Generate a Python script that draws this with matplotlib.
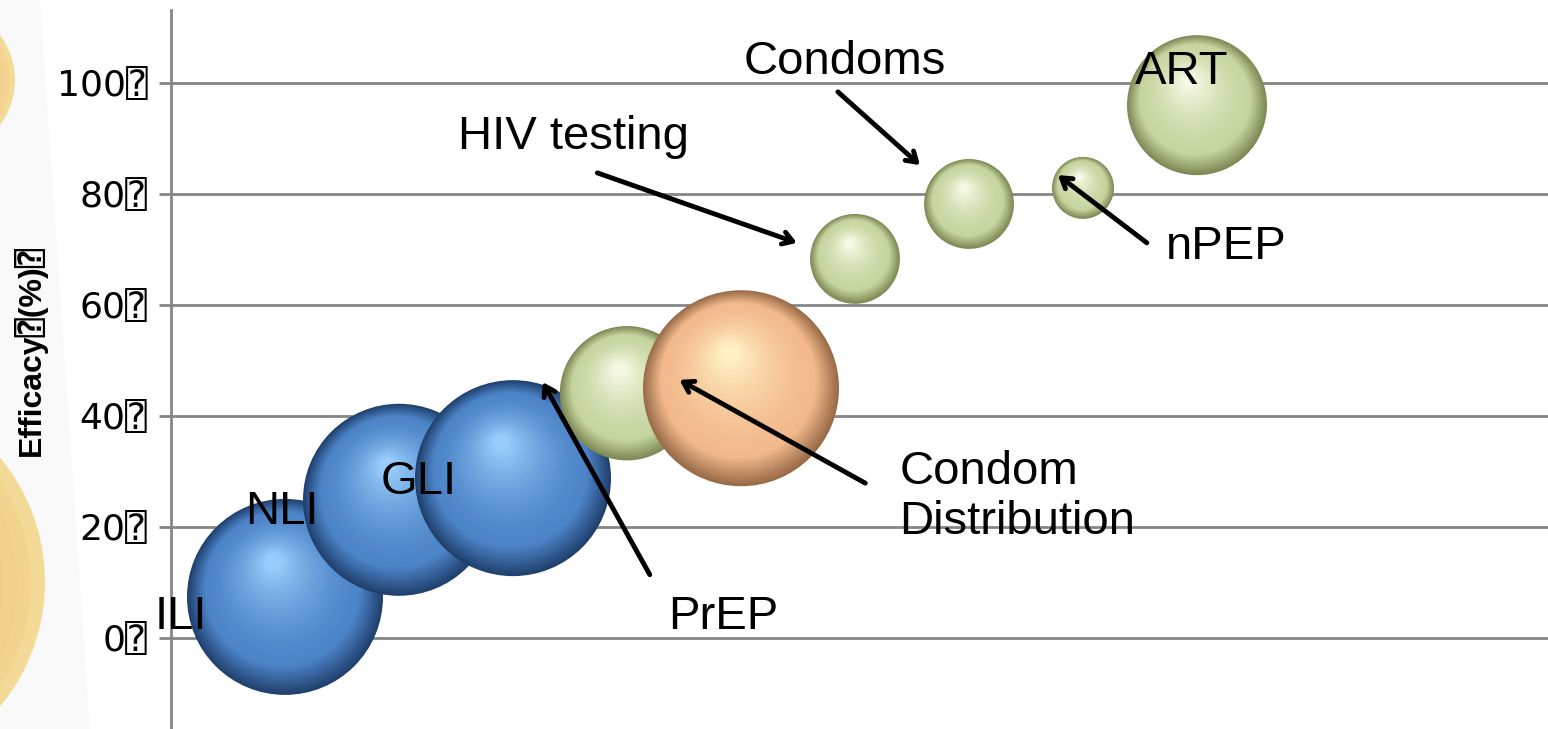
import numpy as np
import matplotlib
matplotlib.use("Agg")
import matplotlib.pyplot as plt
from matplotlib.colors import to_rgb
from matplotlib.transforms import ScaledTranslation
from matplotlib.patches import Ellipse, Polygon

# data
labels = ["ILI", "NLI", "GLI", "PrEP", "Condom Distribution",
          "HIV testing", "Condoms", "nPEP", "ART"]
x_pos = [1, 2, 3, 4, 5, 6, 7, 8, 9]
efficacy = [7.4, 24.9, 28.8, 44.1, 45.0, 68.3, 78.2, 81.1, 96.0]
bubble_size = [100, 96, 100, 47, 100, 21, 21, 10, 51]
groups = ["blue", "blue", "blue", "green", "orange",
          "green", "green", "green", "green"]
y_ticks = [0, 20, 40, 60, 80, 100]

# (edge, base, highlight) per colour group
palette = {
    "blue": ("#21416f", "#4c84c8", "#98ccfa"),
    "green": ("#7d8a55", "#c6d5a0", "#f6f9e4"),
    "orange": ("#9a6c48", "#f2b98c", "#fff1c4"),
}

W, H, DPI = 1548, 729, 100
fig = plt.figure(figsize=(W / DPI, H / DPI), dpi=DPI)
fig.patch.set_facecolor("white")

# faint decoration on the left edge
fig.patches.append(Polygon([(0, 0), (90 / W, 0), (40 / W, 1), (0, 1)],
                           closed=True, transform=fig.transFigure,
                           facecolor="#f9f9f9", edgecolor="none", zorder=-2))
for cx, cy, r in [(-60, 80, 75), (-150, 582, 195)]:
    for k in range(14):
        f = 1 - 0.8 * k / 14
        c = np.array(to_rgb("#e9a596")) * (k / 14) + np.array(to_rgb("#f3d88c")) * (1 - k / 14)
        fig.patches.append(Ellipse(((cx - 0.2 * r * k / 14) / W, 1 - (cy + 0.1 * r * k / 14) / H),
                                   2 * r * f / W, 2 * r * f / H,
                                   transform=fig.transFigure, facecolor=c,
                                   edgecolor="none", alpha=0.9, zorder=-1))

ax = fig.add_axes([171 / W, 0, 1 - 171 / W, (H - 10) / H])
ax.set_facecolor("none")
ax.set_xlim(0, (W - 171) / 114)
ax.set_ylim(-16.4, 113.15)

for s in ["top", "right", "bottom"]:
    ax.spines[s].set_visible(False)
ax.spines["left"].set_color("#868686")
ax.spines["left"].set_linewidth(2)
ax.set_xticks([])
ax.set_yticks(y_ticks)
ax.set_yticklabels([f"{t}\u2370" for t in y_ticks], fontsize=26,
                   family=["DejaVu Sans", "DejaVu Sans Mono"])
ax.tick_params(axis="y", length=9, width=2, color="#868686", pad=8)
ax.yaxis.grid(True, color="#868686", linewidth=2)
ax.set_axisbelow(True)
ax.set_ylabel("Efficacy\u2370(%)\u2370", fontsize=23, fontweight="bold",
              family=["Liberation Sans Narrow", "Liberation Sans", "DejaVu Sans Mono"])
ax.yaxis.set_label_coords(-0.090, 0.527)

# shaded spheres
n_layers = 45
for i in range(len(labels)):
    edge, base, hi = (np.array(to_rgb(c)) for c in palette[groups[i]])
    diam = 196 * np.sqrt(bubble_size[i] / 100) * 72 / DPI  # points
    for k in range(n_layers):
        t = k / (n_layers - 1)
        if t < 0.22:
            col = edge + (base - edge) * (t / 0.22)
        else:
            col = base + (hi - base) * ((t - 0.22) / 0.78) ** 1.6
        d = diam * (1 - 0.92 * t)
        dx = -0.12 * diam / 2 * t
        dy = 0.36 * diam / 2 * t
        tr = ax.transData + ScaledTranslation(dx / 72, dy / 72, fig.dpi_scale_trans)
        ax.scatter([x_pos[i]], [efficacy[i]], s=d ** 2, color=col,
                   edgecolors="none", transform=tr, zorder=3 + i)

# labels and arrows
txt = dict(fontsize=34, family=["Liberation Sans", "DejaVu Sans"], color="black", zorder=20)
ax.text(-0.14, 3.8, "ILI", ha="left", va="center", clip_on=False, **txt)
ax.text(0.97, 22.7, "NLI", ha="center", va="center", **txt)
ax.text(2.17, 28.1, "GLI", ha="center", va="center", **txt)
ax.text(8.87, 102, "ART", ha="center", va="center", **txt)

arrow = dict(arrowstyle="->,head_length=0.7,head_width=0.45", color="black", lw=3.5,
             shrinkA=0, shrinkB=0)
annots = [
    ("PrEP", (4.84, 3.8), (4.2, 11.4), (3.26, 46.1), "center"),
    ("Condom\nDistribution", (6.39, 25.4), (6.09, 27.9), (4.46, 46.5), "left"),
    ("HIV testing", (3.53, 90.3), (3.74, 83.8), (5.49, 71.2), "center"),
    ("Condoms", (5.91, 103.8), (5.85, 98.4), (6.57, 85.2), "center"),
    ("nPEP", (9.26, 70.5), (8.56, 71.2), (7.78, 83.4), "center"),
]
for name, tpos, tail, head, ha in annots:
    ax.text(tpos[0], tpos[1], name, ha=ha, va="center", linespacing=1.2, **txt)
    ax.annotate("", xy=head, xytext=tail, arrowprops=arrow, zorder=21)

fig.savefig("out.png", dpi=DPI, facecolor="white")
